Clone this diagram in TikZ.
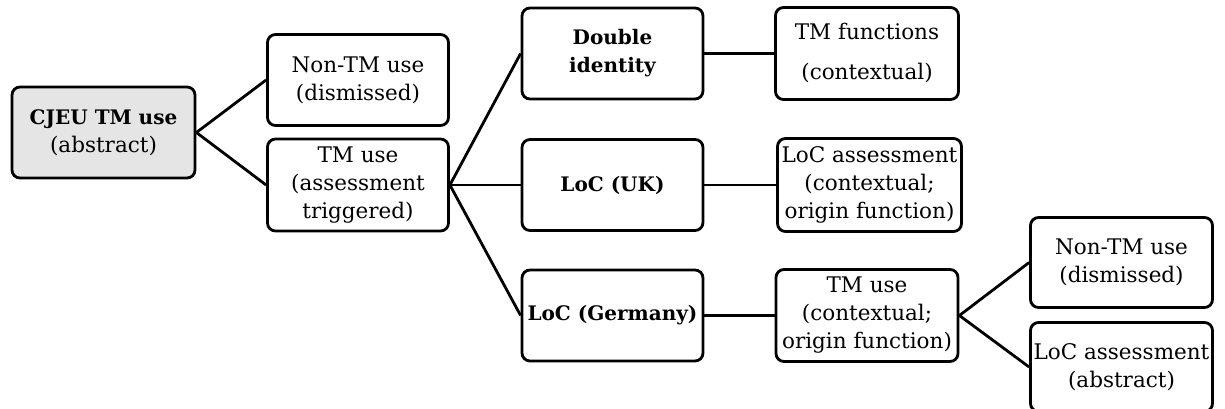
\documentclass[tikz,border=0pt]{standalone}
\usepackage{fontspec}
\setmainfont{DejaVu Serif}
\newcommand{\boxhead}[1]{{\fontsize{20}{28}\selectfont\bfseries #1}}

\begin{document}
\begin{tikzpicture}[x=1pt, y=1pt, node distance=254.5pt,
    usebox/.style={draw, line width=2.8pt, rounded corners=8pt, align=center, inner sep=0pt, minimum width=181pt, minimum height=91pt, font=\fontsize{21.5}{28}\selectfont},
    rootbox/.style={usebox, fill=gray!20},
    link/.style={line width=2.8pt}]

    \useasboundingbox (0,0) rectangle (1225,-409);

    % root of the tree
    \node[rootbox, minimum width=183pt] (cjeu) at (103.5,-132.5) {\boxhead{CJEU TM use}\\(abstract)};
    % first split
    \node[usebox, right of=cjeu, yshift=52.5pt] (nontm) {Non-TM use\\(dismissed)}; % dismissed branch
    \node[usebox, right of=cjeu, yshift=-52.5pt, minimum height=92pt] (tmuse) {TM use\\(assessment\\triggered)};
    % three lines of reasoning
    \node[usebox, right of=tmuse, yshift=131.5pt] (double) {\boxhead{Double}\\\boxhead{identity}};
    \node[usebox, right of=tmuse] (locuk) {\boxhead{LoC (UK)}};
    \node[usebox, right of=tmuse, yshift=-130.5pt] (locde) {\boxhead{LoC (Germany)}};
    % outcomes
    \node[usebox, right of=double, minimum width=183pt, minimum height=92pt] (tmfunc) {TM functions\\[12pt](contextual)};
    \node[usebox, right of=locuk, xshift=2.5pt, minimum width=184pt, minimum height=93pt] (locukout) {LoC assessment\\(contextual;\\origin function)};
    \node[usebox, right of=locde, minimum width=182pt, minimum height=92pt] (tmctx) {TM use\\(contextual;\\origin function)};
    % German follow-up
    \node[usebox, right of=tmctx, yshift=53pt, minimum width=182pt, minimum height=90pt] (nontmde) {Non-TM use\\(dismissed)};
    \node[usebox, right of=tmctx, yshift=-51.5pt, minimum width=182pt, minimum height=89pt] (locabs) {LoC assessment\\(abstract)};

    % connectors
    \draw[link] (cjeu.east) -- (nontm.west);
    \draw[link] (cjeu.east) -- (tmuse.west);
    \draw[link] (tmuse.east) -- (double.west);
    \draw[link] (tmuse.east) -- (locuk.west);
    \draw[link] (tmuse.east) -- (locde.west);
    \draw[link] (double.east) -- (tmfunc.west);
    \draw[link] (locuk.east) -- (locukout.west);
    \draw[link] (locde.east) -- (tmctx.west);
    \draw[link] (tmctx.east) -- (nontmde.west);
    \draw[link] (tmctx.east) -- (locabs.west);
\end{tikzpicture}
\end{document}
